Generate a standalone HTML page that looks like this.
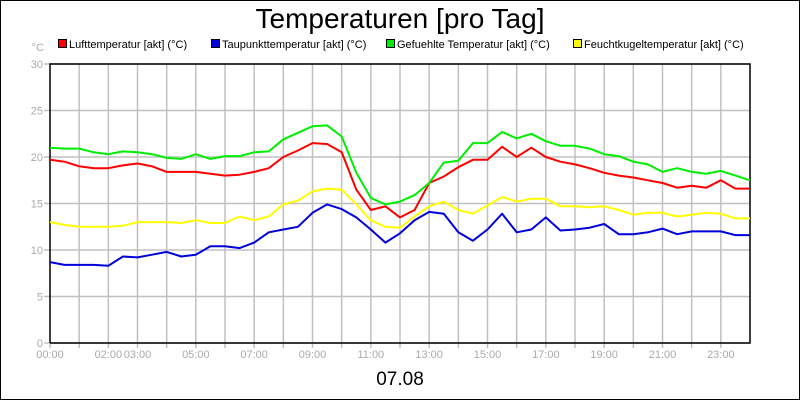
<!DOCTYPE html>
<html><head><meta charset="utf-8"><style>
body{margin:0;background:#fff}
svg{display:block;font-family:"Liberation Sans",sans-serif}
</style></head><body>
<svg id="c" width="800" height="400">
<rect x="0.5" y="0.5" width="799" height="399" fill="#fff" stroke="#000"/>
<text x="400" y="28" font-size="28" text-anchor="middle">Temperaturen [pro Tag]</text>
<text x="44" y="51" font-size="11" fill="#aaa" text-anchor="end">°C</text>
<g id="grid"></g>
<g id="series"></g>
<g id="legend"></g>
<text x="400" y="385" font-size="19" text-anchor="middle">07.08</text>
</svg>
<script>
const yTicks=[0,5,10,15,20,25,30];
const xLabelHours=[0,2,3,5,7,9,11,13,15,17,19,21,23];
const hours=[];for(let i=0;i<=48;i++)hours.push(i/2);
const lufttemp=[19.7,19.5,19.0,18.8,18.8,19.1,19.3,19.0,18.4,18.4,18.4,18.2,18.0,18.1,18.4,18.8,20.0,20.7,21.5,21.4,20.5,16.5,14.3,14.7,13.5,14.3,17.2,17.9,18.9,19.7,19.7,21.1,20.0,21.0,20.0,19.5,19.2,18.8,18.3,18.0,17.8,17.5,17.2,16.7,16.9,16.7,17.5,16.6,16.6];
const taupunkt=[8.7,8.4,8.4,8.4,8.3,9.3,9.2,9.5,9.8,9.3,9.5,10.4,10.4,10.2,10.8,11.9,12.2,12.5,14.0,14.9,14.4,13.5,12.2,10.8,11.8,13.2,14.1,13.9,11.9,11.0,12.2,13.9,11.9,12.2,13.5,12.1,12.2,12.4,12.8,11.7,11.7,11.9,12.3,11.7,12.0,12.0,12.0,11.6,11.6];
const gefuehlt=[21.0,20.9,20.9,20.5,20.3,20.6,20.5,20.3,19.9,19.8,20.3,19.8,20.1,20.1,20.5,20.6,21.9,22.6,23.3,23.4,22.2,18.3,15.6,14.9,15.2,15.9,17.2,19.4,19.6,21.5,21.5,22.7,22.0,22.5,21.7,21.2,21.2,20.9,20.3,20.1,19.5,19.2,18.4,18.8,18.4,18.2,18.5,18.0,17.5];
const feuchtkugel=[13.0,12.7,12.5,12.5,12.5,12.6,13.0,13.0,13.0,12.9,13.2,12.9,12.9,13.6,13.2,13.6,14.9,15.3,16.3,16.6,16.5,14.9,13.2,12.5,12.4,13.6,14.7,15.2,14.3,13.9,14.8,15.7,15.2,15.5,15.5,14.7,14.7,14.6,14.7,14.3,13.8,14.0,14.0,13.6,13.8,14.0,13.9,13.4,13.4];
const seriesNames=["Lufttemperatur [akt] (°C)","Taupunkttemperatur [akt] (°C)","Gefuehlte Temperatur [akt] (°C)","Feuchtkugeltemperatur [akt] (°C)"];
const seriesColors=["#ff0000","#0000dd","#00ee00","#ffff00"];
const seriesData=[lufttemp,taupunkt,gefuehlt,feuchtkugel];
const legendX=[58,211,386,573];
const X0=50,X1=750,Y0=343,Y1=64;
const xs=h=>X0+(X1-X0)*h/24;
const ys=v=>Y0-(Y0-Y1)*v/30;
const NS="http://www.w3.org/2000/svg";
function mk(tag,attrs,parent){const e=document.createElementNS(NS,tag);for(const k in attrs)e.setAttribute(k,attrs[k]);parent.appendChild(e);return e;}
const g=document.getElementById('grid');
for(let h=1;h<24;h++){
 const l=mk('line',{x1:xs(h),x2:xs(h),y1:Y1,y2:Y0+5,stroke:'#c0c0c0','stroke-width':1.5},g);
 
 
}
mk('line',{x1:X0,x2:X0,y1:Y0,y2:Y0+5,stroke:'#c0c0c0','stroke-width':1.5},g);
yTicks.forEach(v=>{
 const l=mk('line',{x1:X0-6,x2:X1,y1:ys(v),y2:ys(v),stroke:'#c0c0c0','stroke-width':1.5},g);
 
 
 const t=mk('text',{x:X0-7,y:ys(v)+4,'font-size':11,fill:'#aaa','text-anchor':'end'},g);
 t.textContent=v;
 
 
});
xLabelHours.forEach(h=>{
 const t=mk('text',{x:xs(h),y:Y0+15,'font-size':11,fill:'#aaa','text-anchor':'middle'},g);
 t.textContent=String(h).padStart(2,'0')+':00';
 
 
});
const frame=mk('path',{d:`M${X0},${Y0}V${Y1}H${X1}V${Y0}H${X0}`,fill:'none',stroke:'#000','stroke-width':1.5},g);


const s=document.getElementById('series');
seriesData.forEach((arr,i)=>{
 const d=arr.map((v,j)=>(j?'L':'M')+xs(hours[j]).toFixed(1)+','+ys(v).toFixed(1)).join('');
 const p=mk('path',{d:d,fill:'none',stroke:seriesColors[i],'stroke-width':2,'stroke-linejoin':'round'},s);
 
 
});
const lg=document.getElementById('legend');
seriesNames.forEach((n,i)=>{
 const r=mk('rect',{x:legendX[i]+0.5,y:39.5,width:8,height:8,fill:seriesColors[i],stroke:'#000'},lg);
 
 
 const t=mk('text',{x:legendX[i]+11,y:48,'font-size':11},lg);
 t.textContent=n;
 
 
});
</script>
</body></html>
